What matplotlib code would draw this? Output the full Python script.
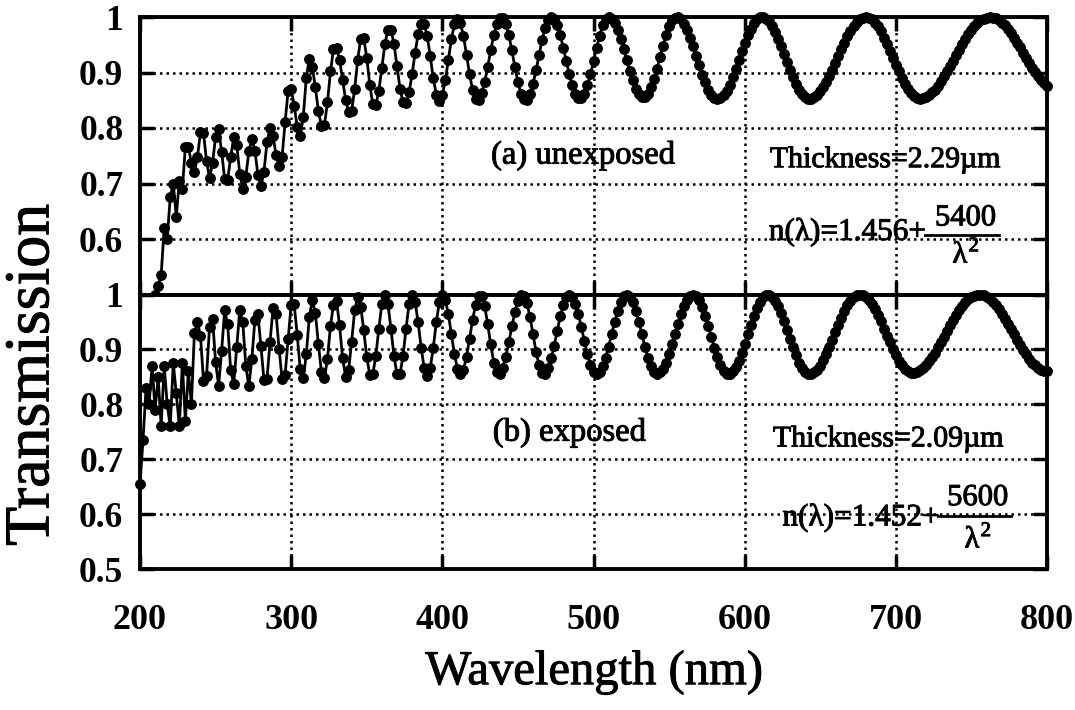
import numpy as np
import matplotlib
matplotlib.use("Agg")
import matplotlib.pyplot as plt
import matplotlib.patheffects as pe

# ---------------- data ----------------
# (a) unexposed film, sampled every 2 nm starting at 210 nm
start_a = 210
T_a = [
    0.500, 0.515, 0.535, 0.620, 0.600, 0.675, 0.700, 0.640, 0.705, 0.690,
    0.765, 0.765, 0.737, 0.720, 0.748, 0.792, 0.791, 0.741, 0.710, 0.737,
    0.784, 0.798, 0.757, 0.708, 0.707, 0.748, 0.783, 0.769, 0.718, 0.690,
    0.712, 0.758, 0.780, 0.759, 0.716, 0.695, 0.721, 0.774, 0.800, 0.785,
    0.752, 0.731, 0.748, 0.811, 0.867, 0.871, 0.840, 0.802, 0.785, 0.820,
    0.890, 0.925, 0.910, 0.873, 0.831, 0.804, 0.806, 0.846, 0.902, 0.942,
    0.945, 0.923, 0.887, 0.851, 0.829, 0.831, 0.870, 0.923, 0.961, 0.962,
    0.927, 0.878, 0.843, 0.841, 0.867, 0.909, 0.951, 0.977, 0.977, 0.952,
    0.912, 0.871, 0.846, 0.845, 0.864, 0.897, 0.936, 0.969, 0.987, 0.987,
    0.966, 0.929, 0.890, 0.860, 0.849, 0.859, 0.886, 0.923, 0.960, 0.987,
    0.997, 0.989, 0.965, 0.932, 0.897, 0.869, 0.852, 0.851, 0.863, 0.883,
    0.910, 0.940, 0.967, 0.988, 0.998, 0.999, 0.987, 0.967, 0.940, 0.910,
    0.883, 0.862, 0.852, 0.851, 0.861, 0.880, 0.904, 0.932, 0.959, 0.980,
    0.995, 1.000, 0.996, 0.985, 0.967, 0.945, 0.920, 0.897, 0.877, 0.862,
    0.854, 0.854, 0.862, 0.877, 0.897, 0.921, 0.944, 0.966, 0.985, 0.996,
    1.000, 0.997, 0.990, 0.977, 0.961, 0.942, 0.922, 0.903, 0.886, 0.871,
    0.861, 0.856, 0.856, 0.862, 0.873, 0.888, 0.907, 0.928, 0.948, 0.967,
    0.983, 0.994, 0.999, 1.000, 0.996, 0.988, 0.977, 0.963, 0.948, 0.930,
    0.913, 0.896, 0.882, 0.869, 0.860, 0.854, 0.852, 0.854, 0.859, 0.867,
    0.878, 0.891, 0.906, 0.922, 0.938, 0.953, 0.968, 0.979, 0.989, 0.996,
    1.000, 1.000, 0.997, 0.992, 0.984, 0.973, 0.961, 0.948, 0.934, 0.919,
    0.905, 0.892, 0.880, 0.869, 0.862, 0.856, 0.853, 0.853, 0.855, 0.860,
    0.866, 0.873, 0.883, 0.894, 0.905, 0.917, 0.930, 0.942, 0.954, 0.965,
    0.975, 0.984, 0.991, 0.996, 0.999, 1.000, 0.999, 0.996, 0.990, 0.983,
    0.974, 0.963, 0.952, 0.939, 0.927, 0.914, 0.902, 0.890, 0.880, 0.870,
    0.863, 0.857, 0.854, 0.853, 0.854, 0.856, 0.859, 0.864, 0.869, 0.876,
    0.884, 0.893, 0.902, 0.912, 0.921, 0.932, 0.941, 0.952, 0.960, 0.969,
    0.977, 0.984, 0.989, 0.994, 0.997, 0.999, 1.000, 0.999, 0.998, 0.994,
    0.990, 0.985, 0.979, 0.971, 0.963, 0.954, 0.946, 0.936, 0.927, 0.918,
    0.909, 0.901, 0.894, 0.887, 0.881, 0.876,
]

# (b) exposed film, sampled every 2 nm starting at 200 nm
start_b = 200
T_b = [
    0.655, 0.735, 0.830, 0.800, 0.870, 0.790, 0.850, 0.760, 0.870, 0.800,
    0.760, 0.875, 0.820, 0.760, 0.875, 0.770, 0.860, 0.800, 0.930, 0.950,
    0.925, 0.843, 0.851, 0.941, 0.956, 0.877, 0.834, 0.897, 0.971, 0.946,
    0.862, 0.837, 0.904, 0.972, 0.949, 0.870, 0.833, 0.882, 0.954, 0.964,
    0.906, 0.845, 0.846, 0.913, 0.975, 0.965, 0.901, 0.846, 0.854, 0.919,
    0.981, 0.982, 0.926, 0.864, 0.847, 0.891, 0.959, 0.990, 0.966, 0.910,
    0.859, 0.847, 0.883, 0.943, 0.981, 0.989, 0.944, 0.885, 0.850, 0.862,
    0.914, 0.971, 0.995, 0.978, 0.935, 0.886, 0.854, 0.855, 0.888, 0.938,
    0.983, 1.000, 0.983, 0.938, 0.888, 0.855, 0.855, 0.888, 0.938, 0.983,
    1.000, 0.986, 0.949, 0.903, 0.866, 0.852, 0.866, 0.903, 0.949, 0.986,
    1.000, 0.990, 0.964, 0.928, 0.891, 0.865, 0.855, 0.863, 0.887, 0.919,
    0.954, 0.981, 0.998, 0.998, 0.979, 0.946, 0.909, 0.876, 0.858, 0.856,
    0.867, 0.887, 0.913, 0.942, 0.968, 0.988, 0.999, 0.998, 0.984, 0.959,
    0.928, 0.896, 0.871, 0.857, 0.856, 0.866, 0.884, 0.907, 0.934, 0.960,
    0.980, 0.995, 1.000, 0.996, 0.983, 0.964, 0.940, 0.915, 0.891, 0.872,
    0.859, 0.855, 0.859, 0.869, 0.885, 0.905, 0.928, 0.950, 0.970, 0.986,
    0.997, 1.000, 0.996, 0.986, 0.970, 0.950, 0.928, 0.905, 0.885, 0.869,
    0.859, 0.855, 0.858, 0.865, 0.876, 0.891, 0.909, 0.928, 0.946, 0.964,
    0.979, 0.990, 0.998, 1.000, 0.997, 0.990, 0.977, 0.961, 0.942, 0.922,
    0.903, 0.886, 0.871, 0.861, 0.856, 0.856, 0.860, 0.868, 0.879, 0.894,
    0.910, 0.928, 0.945, 0.961, 0.976, 0.987, 0.995, 0.999, 1.000, 0.996,
    0.989, 0.979, 0.966, 0.951, 0.936, 0.919, 0.904, 0.889, 0.876, 0.867,
    0.859, 0.856, 0.855, 0.858, 0.863, 0.870, 0.880, 0.891, 0.904, 0.917,
    0.931, 0.945, 0.958, 0.970, 0.980, 0.988, 0.995, 0.999, 1.000, 0.999,
    0.995, 0.990, 0.982, 0.973, 0.962, 0.951, 0.938, 0.925, 0.913, 0.901,
    0.889, 0.879, 0.871, 0.864, 0.860, 0.857, 0.857, 0.859, 0.862, 0.866,
    0.871, 0.878, 0.886, 0.894, 0.904, 0.914, 0.923, 0.934, 0.944, 0.954,
    0.963, 0.971, 0.979, 0.986, 0.991, 0.995, 0.998, 1.000, 1.000, 0.999,
    0.996, 0.992, 0.987, 0.980, 0.973, 0.965, 0.956, 0.947, 0.937, 0.928,
    0.918, 0.908, 0.899, 0.891, 0.883, 0.876, 0.871, 0.866, 0.863, 0.861,
    0.860,
]
step_nm = 2

x_ticks = [200, 300, 400, 500, 600, 700, 800]
x_labels = ["200", "300", "400", "500", "600", "700", "800"]
y_ticks_a = [0.6, 0.7, 0.8, 0.9, 1.0]
y_labels_a = ["0.6", "0.7", "0.8", "0.9", "1"]
y_ticks_b = [0.5, 0.6, 0.7, 0.8, 0.9, 1.0]
y_labels_b = ["0.5", "0.6", "0.7", "0.8", "0.9", "1"]

label_a = "(a) unexposed"
label_b = "(b) exposed"
thick_a = "Thickness=2.29\u00b5m"
thick_b = "Thickness=2.09\u00b5m"
n_a = ("n(\u03bb)=1.456+", "5400", "\u03bb", "2")
n_b = ("n(\u03bb)=1.452+", "5600", "\u03bb", "2")

wl_a = start_a + step_nm * np.arange(len(T_a))
wl_b = start_b + step_nm * np.arange(len(T_b))

# ---------------- figure ----------------
SERIF = ["Liberation Serif", "DejaVu Serif"]
plt.rcParams["font.family"] = SERIF
HEAVY = [pe.withStroke(linewidth=0.7, foreground="black")]

fig = plt.figure(figsize=(10.75, 7.10), dpi=100)
L, R = 140 / 1075, 1047 / 1075
top_a, mid, bot_b = 1 - 17 / 710, 1 - 294.5 / 710, 1 - 569 / 710
ax_a = fig.add_axes([L, mid, R - L, top_a - mid])
ax_b = fig.add_axes([L, bot_b, R - L, mid - bot_b])


def style(ax, yt, yl, show_x):
    ax.set_xlim(200, 800)
    ax.set_ylim(0.5, 1.0)
    ax.set_xticks(x_ticks)
    ax.set_yticks(yt)
    ax.set_yticklabels(yl, fontsize=25.5, fontweight="bold")
    if show_x:
        ax.set_xticklabels(x_labels, fontsize=26, fontweight="bold")
    else:
        ax.set_xticklabels([])
    ax.tick_params(axis="both", direction="in", length=10, width=2.5,
                   top=True, right=True)
    ax.tick_params(axis="y", pad=12)
    ax.tick_params(axis="x", pad=25)
    for s in ax.spines.values():
        s.set_linewidth(2.8)
    ax.grid(True, color="black", linestyle=(0, (1, 1.6)), linewidth=1.8)
    ax.set_axisbelow(True)


style(ax_a, y_ticks_a, y_labels_a, False)
style(ax_b, y_ticks_b, y_labels_b, True)

kw = dict(color="black", linewidth=2.0, marker="o", markersize=6.8,
          markerfacecolor="black", markeredgecolor="black", clip_on=False,
          zorder=3)
ax_a.plot(wl_a, T_a, **kw)
ax_b.plot(wl_b, T_b, **kw)


def annotate(ax, lab, lab_xy, thick, thick_xy, ntxt, n_x, n_y, frac_x,
             num_y, den_y, line_x0, line_x1, line_y):
    ax.text(*lab_xy, lab, ha="center", va="center", fontsize=23.5,
            path_effects=HEAVY)
    ax.text(*thick_xy, thick, ha="center", va="center", fontsize=21.5,
            path_effects=HEAVY)
    ax.text(n_x, n_y, ntxt[0], ha="left", va="center", fontsize=22.5,
            path_effects=HEAVY)
    ax.text(frac_x, num_y, ntxt[1], ha="center", va="center", fontsize=22,
            path_effects=HEAVY)
    ax.annotate(ntxt[2], xy=(frac_x, den_y), xytext=(-4, 0),
                textcoords="offset points", ha="center", va="center",
                fontsize=22, path_effects=HEAVY)
    ax.annotate(ntxt[3], xy=(frac_x, den_y), xytext=(6, 6),
                textcoords="offset points", ha="center", va="center",
                fontsize=15, path_effects=HEAVY)
    ax.plot([line_x0, line_x1], [line_y, line_y], color="black",
            linewidth=2.0, clip_on=False, zorder=4)


annotate(ax_a, label_a, (493, 0.751), thick_a, (693, 0.742), n_a,
         616, 0.612, 746, 0.638, 0.571, 719, 768, 0.607)
annotate(ax_b, label_b, (484, 0.749), thick_b, (695, 0.736), n_b,
         625, 0.593, 754, 0.630, 0.553, 728, 776, 0.597)

fig.text(0.031, 0.472, "Transmission", rotation=90, ha="center",
         va="center", fontsize=46, path_effects=HEAVY)
fig.text(0.553, 0.053, "Wavelength (nm)", ha="center", va="center",
         fontsize=35, path_effects=HEAVY)

fig.savefig("out.png", dpi=100)
